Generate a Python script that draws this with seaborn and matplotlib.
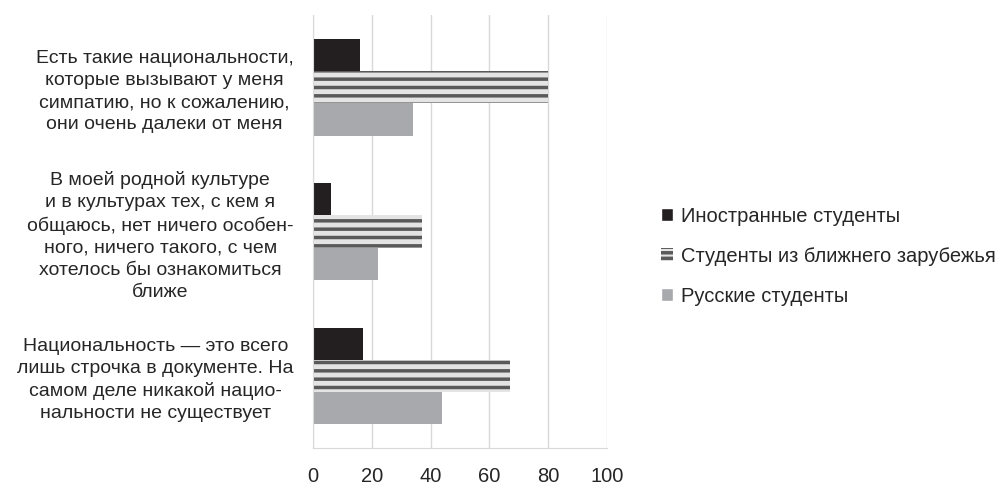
import pandas as pd
import matplotlib
matplotlib.use("Agg")
import matplotlib.pyplot as plt
import seaborn as sns
from matplotlib.patches import Patch

categories = [
    "Есть такие национальности,\nкоторые вызывают у меня\nсимпатию, но к сожалению,\nони очень далеки от меня",
    "В моей родной культуре\nи в культурах тех, с кем я\nобщаюсь, нет ничего особен-\nного, ничего такого, с чем\nхотелось бы ознакомиться\nближе",
    "Национальность — это всего\nлишь строчка в документе. На\nсамом деле никакой нацио-\nнальности не существует",
]
series = ["Иностранные студенты", "Студенты из ближнего зарубежья", "Русские студенты"]
foreign = [16, 6, 17]
near_abroad = [80, 37, 67]
russian = [34, 22, 44]
x_ticks = [0, 20, 40, 60, 80, 100]

colors = ["#231f20", "#e4e4e4", "#a7a9ac"]

rows = []
for cat, a, b, c in zip(categories, foreign, near_abroad, russian):
    rows.append((cat, series[0], a))
    rows.append((cat, series[1], b))
    rows.append((cat, series[2], c))
df = pd.DataFrame(rows, columns=["cat", "group", "value"])

sns.set_style("white")
plt.rcParams["font.family"] = ["Liberation Sans", "DejaVu Sans"]
plt.rcParams["hatch.linewidth"] = 2.5
plt.rcParams["hatch.color"] = "#5a5a5a"

fig = plt.figure(figsize=(10, 4.88), dpi=100)
ax = fig.add_axes([0.313, 0.082, 0.294, 0.887])

sns.barplot(data=df, y="cat", x="value", hue="group", order=categories,
            hue_order=series, palette=colors, orient="h", width=0.67,
            saturation=1, ax=ax, legend=False, linewidth=0)

for bar in ax.containers[1]:
    bar.set_hatch("--")
    bar.set_edgecolor("#5a5a5a")
    bar.set_linewidth(0)

ax.set_xlim(0, 100)
ax.set_xticks(x_ticks)
ax.set_xticklabels([str(t) for t in x_ticks], fontsize=14.5)
ax.xaxis.grid(True, color="#d9d9d9", linewidth=1)
ax.set_axisbelow(True)
ax.set_xlabel("")
ax.set_ylabel("")

# category boundaries as ticks
ax.set_yticks([-0.5, 0.5, 1.5, 2.5], minor=False)
ax.set_yticklabels([])
ax.set_yticks([0, 1, 2], minor=True)
ax.set_yticklabels(categories, minor=True, fontsize=14, multialignment="center",
                   linespacing=1.38)
ax.tick_params(axis="y", which="minor", length=0, pad=14)
ax.tick_params(axis="y", which="major", length=6, color="#bdbdbd", width=1)
ax.tick_params(axis="x", length=0, pad=14)
ax.set_ylim(2.5, -0.5)

for s in ["top", "right"]:
    ax.spines[s].set_visible(False)
ax.spines["left"].set_color("#d9d9d9")
ax.spines["bottom"].set_color("#d9d9d9")

handles = [Patch(facecolor=colors[0]),
           Patch(facecolor=colors[1], hatch="---", edgecolor="#5a5a5a", linewidth=0),
           Patch(facecolor=colors[2])]
fig.legend(handles, series, loc="center left", bbox_to_anchor=(0.661, 0.475),
           frameon=False, fontsize=14.5, handlelength=0.6, handleheight=0.6,
           handletextpad=0.4, labelspacing=1.05, borderaxespad=0, borderpad=0)

fig.savefig("out.png", dpi=100)
